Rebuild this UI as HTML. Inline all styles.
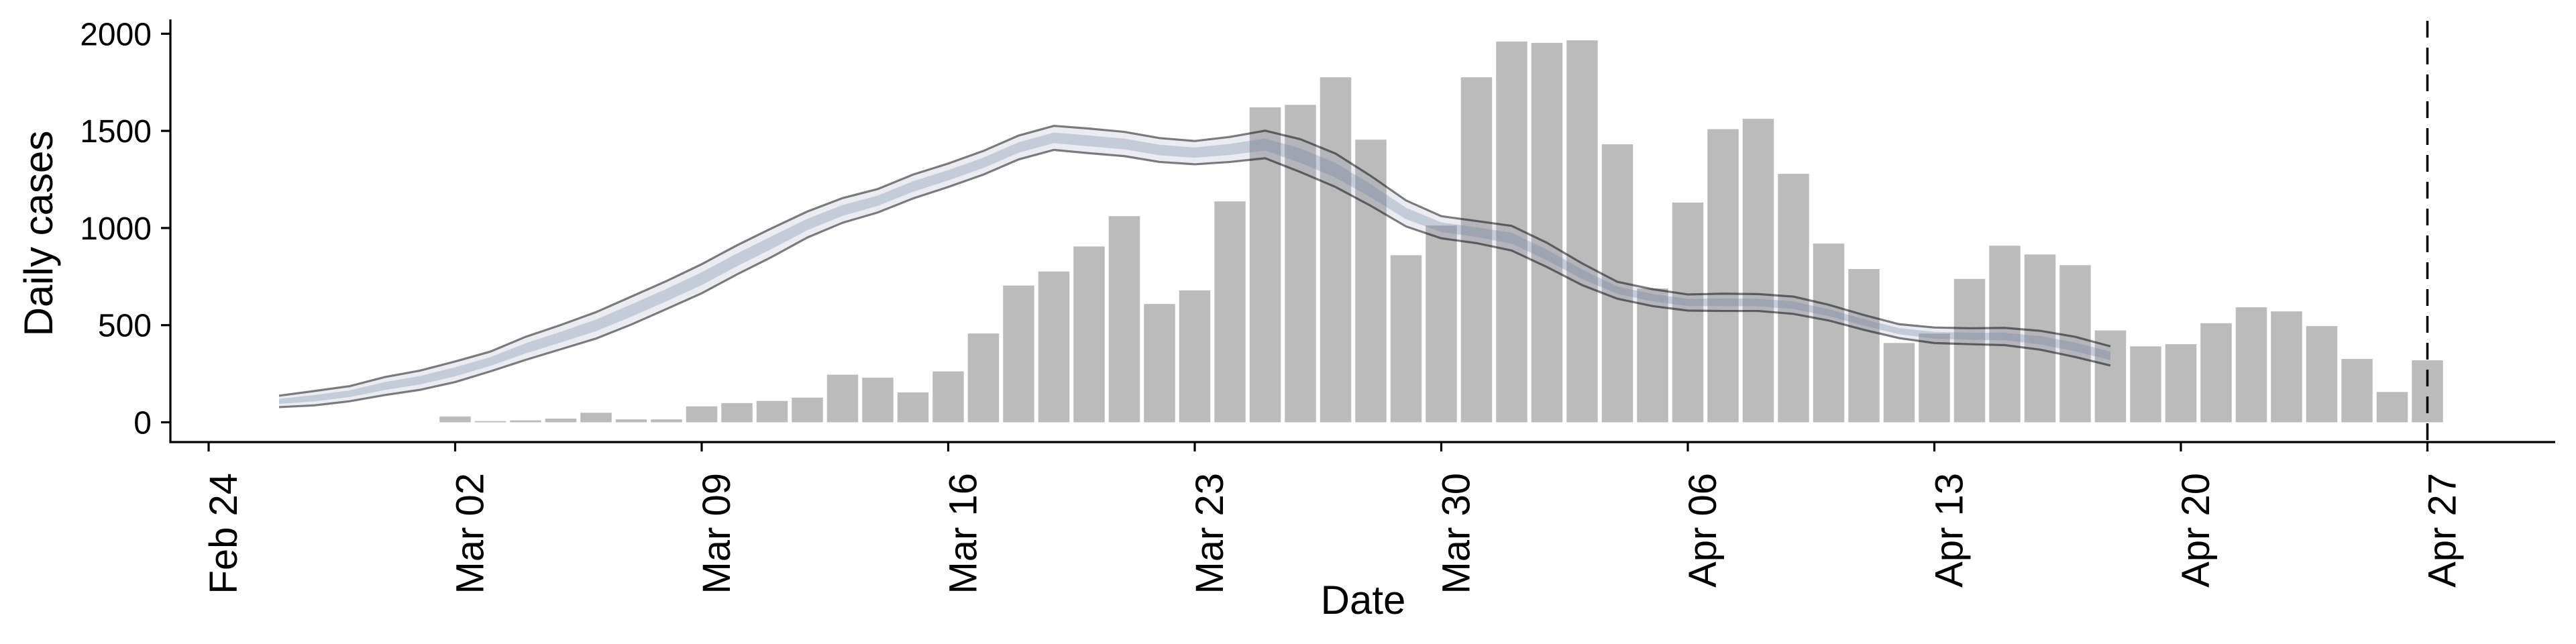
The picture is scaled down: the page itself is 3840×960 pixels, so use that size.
<!DOCTYPE html>
<html><head><meta charset="utf-8"><style>
html,body{margin:0;padding:0;background:#fff;}
svg{display:block;font-family:"Liberation Sans",Arial,sans-serif;}
</style></head><body>
<svg id="chart" width="3840" height="960" viewBox="0 0 3840 960" xmlns="http://www.w3.org/2000/svg">
<g id="bars"></g>
<g id="ribbon-top"></g>
<g id="axes"></g>
</svg>
<script>
const barDays = [7,8,9,10,11,12,13,14,15,16,17,18,19,20,21,22,23,24,25,26,27,28,29,30,31,32,33,34,35,36,37,38,39,40,41,42,43,44,45,46,47,48,49,50,51,52,53,54,55,56,57,58,59,60,61,62,63];
const barValues = [30,6,10,19,49,15,15,82,99,110,127,245,230,154,262,457,704,776,905,1061,609,679,1137,1621,1634,1776,1455,860,1013,1776,1960,1953,1966,1431,689,1131,1509,1562,1279,920,789,408,457,738,909,864,809,473,391,402,510,592,571,495,326,156,319];
const ribbonDays = [2,3,4,5,6,7,8,9,10,11,12,13,14,15,16,17,18,19,20,21,22,23,24,25,26,27,28,29,30,31,32,33,34,35,36,37,38,39,40,41,42,43,44,45,46,47,48,49,50,51,52,53,54];
const upperValues = [137,161,186,233,266,313,364,440,501,567,647,727,814,911,1000,1085,1154,1201,1275,1332,1397,1476,1526,1512,1495,1463,1448,1469,1501,1457,1383,1268,1142,1061,1036,1011,924,818,723,685,658,662,660,647,605,552,505,488,484,486,471,440,391];
const lowerValues = [78,87,108,140,167,207,262,321,376,431,503,583,664,761,852,951,1027,1080,1152,1211,1275,1353,1402,1385,1370,1340,1328,1340,1359,1288,1211,1114,1008,947,922,884,799,706,636,598,575,573,573,558,524,476,433,408,402,397,374,336,292];
const yTicks = [0,500,1000,1500,2000];
const xTickDays = [0,7,14,21,28,35,42,49,56,63];
const xTickLabels = ["Feb 24","Mar 02","Mar 09","Mar 16","Mar 23","Mar 30","Apr 06","Apr 13","Apr 20","Apr 27"];
const cutoffDay = 63;

const NS="http://www.w3.org/2000/svg";
const xs = d => 311 + 52.5*d;
const ys = v => 629.5 - v*0.2896;
function mk(tag, parent, attrs){const e=document.createElementNS(NS,tag);for(const k in attrs)e.setAttribute(k,attrs[k]);parent.appendChild(e);return e;}

const barsG=document.getElementById('bars');
barDays.forEach((d,i)=>{
  const r=mk('rect',barsG,{x:xs(d)-23.25,y:ys(barValues[i]),width:46.5,height:ys(0)-ys(barValues[i]),fill:'#bbbbbb'});
  
  
});

function areaPath(hi,lo){
  let p='M'+ribbonDays.map((d,i)=>xs(d)+','+ys(hi[i])).join(' L');
  p+=' L'+ribbonDays.slice().reverse().map((d,j)=>{const i=ribbonDays.length-1-j;return xs(d)+','+ys(lo[i]);}).join(' L')+' Z';
  return p;
}
const innerHi=upperValues.map((u,i)=>lowerValues[i]+0.72*(u-lowerValues[i]));
const innerLo=upperValues.map((u,i)=>lowerValues[i]+0.28*(u-lowerValues[i]));
const ribbonTop=document.getElementById('ribbon-top');
const outerBand=mk('path',ribbonTop,{d:areaPath(upperValues,lowerValues),fill:'rgb(150,160,190)','fill-opacity':0.2});


const innerBand=mk('path',ribbonTop,{d:areaPath(innerHi,innerLo),fill:'rgb(110,126,159)','fill-opacity':0.3});


const lineU=mk('polyline',ribbonTop,{points:ribbonDays.map((d,i)=>xs(d)+','+ys(upperValues[i])).join(' '),fill:'none',stroke:'#000','stroke-opacity':0.5,'stroke-width':3.2});


const lineL=mk('polyline',ribbonTop,{points:ribbonDays.map((d,i)=>xs(d)+','+ys(lowerValues[i])).join(' '),fill:'none',stroke:'#000','stroke-opacity':0.5,'stroke-width':3.2});



const ax=document.getElementById('axes');
const ya=mk('line',ax,{x1:254,y1:29,x2:254,y2:660.5,stroke:'#000','stroke-width':3.2});


const xa=mk('line',ax,{x1:252.5,y1:659,x2:3809,y2:659,stroke:'#000','stroke-width':3.2});


yTicks.forEach(v=>{
  const t=mk('line',ax,{x1:240,y1:ys(v),x2:254,y2:ys(v),stroke:'#000','stroke-width':3.2});
  
  
  const l=mk('text',ax,{x:226,y:ys(v)+17,'text-anchor':'end','font-size':48,fill:'#000'});
  l.textContent=v;
  
  
});
xTickDays.forEach((d,i)=>{
  const t=mk('line',ax,{x1:xs(d),y1:659,x2:xs(d),y2:673,stroke:'#000','stroke-width':3.2});
  
  
  const l=mk('text',ax,{x:0,y:0,'text-anchor':'end','font-size':58,fill:'#000',transform:'translate('+(xs(d)+42)+',705) rotate(-90)'});
  l.textContent=xTickLabels[i];
  
  
});
const dash=mk('line',ax,{x1:xs(cutoffDay),y1:31,x2:xs(cutoffDay),y2:673,stroke:'#000','stroke-width':3.5,'stroke-dasharray':'25 15'});


const yt=mk('text',ax,{x:0,y:0,'text-anchor':'middle','font-size':60,fill:'#000',transform:'translate(78,348) rotate(-90)'});
yt.textContent='Daily cases';


const xt=mk('text',ax,{x:2032,y:915,'text-anchor':'middle','font-size':60,fill:'#000'});
xt.textContent='Date';


</script>
</body></html>
